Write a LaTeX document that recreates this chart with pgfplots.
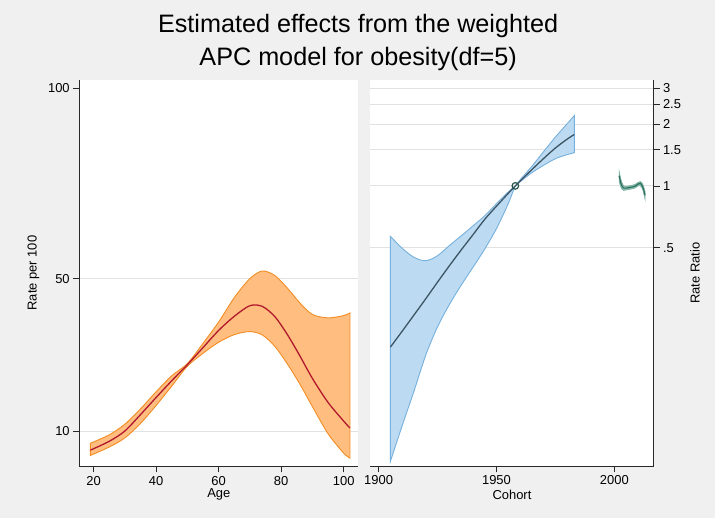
\documentclass[border=0pt]{standalone}
\usepackage{pgfplots}
\pgfplotsset{compat=1.18}
\usepackage{pgfplotstable}
\usepgfplotslibrary{fillbetween}
\usepackage{fontspec}
\setmainfont{Liberation Sans}

\definecolor{bgcol}{RGB}{240,240,240}
\definecolor{gridcol}{RGB}{226,226,226}
\definecolor{axcol}{RGB}{40,40,40}
\definecolor{orfill}{RGB}{255,190,128}
\definecolor{orline}{RGB}{242,140,35}
\definecolor{redline}{RGB}{176,24,45}
\definecolor{blfill}{RGB}{188,219,242}
\definecolor{blline}{RGB}{118,176,220}
\definecolor{slate}{RGB}{60,85,100}
\definecolor{tealfill}{RGB}{140,192,176}
\definecolor{tealline}{RGB}{46,110,94}

% age effect: rate per 100
\pgfplotstableread{
age est lo hi
19 5.0 3.6 6.8
25 7.3 5.8 9.0
30 10.0 8.2 11.8
35 14.3 12.0 15.8
40 18.8 16.7 20.3
45 23.2 21.8 24.5
50 27.4 27.0 27.7
55 31.9 30.4 33.0
60 36.4 33.3 38.6
65 40.1 35.3 45.0
70 42.9 36.1 50.0
74 42.7 35.2 52.0
78 40.0 32.2 50.8
82 35.3 27.6 47.5
86 29.7 22.3 43.6
90 23.8 16.4 40.6
95 17.5 9.3 39.7
100 12.6 4.2 40.3
102 10.8 2.9 41.0
}\agetab

% cohort effect: rate ratio
\pgfplotstableread{
coh est lo hi
1905 0.164 0.0455 0.568
1910 0.196 0.068 0.497
1915 0.235 0.100 0.449
1920 0.282 0.150 0.432
1925 0.340 0.206 0.457
1930 0.408 0.264 0.512
1935 0.487 0.328 0.571
1940 0.578 0.401 0.638
1945 0.687 0.492 0.715
1950 0.797 0.620 0.820
1955 0.920 0.820 0.935
1958 1.000 1.000 1.000
1960 1.055 1.046 1.070
1965 1.200 1.160 1.245
1970 1.360 1.260 1.470
1975 1.530 1.357 1.730
1980 1.690 1.420 2.010
1983 1.780 1.450 2.200
}\cohtab

% period effect: rate ratio
\pgfplotstableread{
per est lo hi
2002 1.12 1.05 1.18
2003 1.01 0.97 1.05
2004 0.975 0.95 1.00
2005 0.975 0.955 0.995
2006 0.98 0.96 1.00
2007 0.985 0.965 1.005
2008 0.99 0.97 1.01
2009 1.00 0.98 1.02
2010 1.02 1.00 1.04
2011 1.03 1.00 1.05
2012 0.99 0.96 1.02
2013 0.90 0.86 0.94
}\pertab

\pgfplotsset{
  apc/.style={
    scale only axis,
    height=388.3pt,
    anchor=south west,
    axis background/.style={fill=white},
    tick align=outside,
    major tick length=6pt,
    tick style={color=axcol, line width=0.7pt},
    axis line style={color=axcol, line width=0.8pt},
    grid style={color=gridcol, line width=0.8pt},
    ticklabel style={font=\fontsize{13}{15}\selectfont},
    label style={font=\fontsize{13}{15}\selectfont},
    /pgf/number format/assume math mode=true,
    /pgf/number format/1000 sep={},
    xlabel style={at={(axis description cs:0.5,-0.0731)}, anchor=center},
  }
}

\begin{document}
\pagecolor{bgcol}
\begin{tikzpicture}
\path (0pt,0pt) rectangle (715pt,520pt);
\node[anchor=base, font=\fontsize{25.3}{30}\selectfont] at (356.7pt,487pt) {Estimated effects from the weighted};
\node[anchor=base, font=\fontsize{25.3}{30}\selectfont] at (356.7pt,454pt) {APC model for obesity(df=5)};

\begin{axis}[apc,
    at={(76.7pt,51.7pt)},
    width=280.3pt,
    xmin=15.4, xmax=104.7,
    ymin=0.7, ymax=102.2,
    axis x line*=bottom,
    axis y line*=left,
    xtick={20,40,60,80,100},
    xticklabels={20,40,60,80,100},
    ytick={10,50,100},
    yticklabels={10,50,100},
    extra y ticks={10,50},
    extra y tick labels={},
    extra y tick style={grid=major, major tick length=0pt},
    xlabel={Age},
    ylabel={Rate per 100},
    ylabel style={at={(axis description cs:-0.164,0.5)}, anchor=center},
]
\addplot[draw=none, smooth, name path=ahi] table[x=age, y=hi] {\agetab};
\addplot[draw=none, smooth, name path=alo] table[x=age, y=lo] {\agetab};
\addplot[fill=orfill, draw=orline, line width=0.9pt] fill between[of=ahi and alo];
\addplot[redline, line width=1.3pt, smooth] table[x=age, y=est] {\agetab};
\end{axis}

\begin{axis}[apc,
    at={(369pt,51.7pt)},
    width=284.3pt,
    xmin=1896.5, xmax=2016.6,
    ymode=log,
    ymin=0.043, ymax=3.29,
    axis x line*=bottom,
    axis y line*=right,
    xtick={1900,1950,2000},
    xticklabels={1900,1950,2000},
    ytick={0.5,1,1.5,2,2.5,3},
    yticklabels={.5,1,1.5,2,2.5,3},
    yminorticks=false,
    ymajorgrids,
    xlabel={Cohort},
    ylabel={Rate Ratio},
    ylabel style={at={(axis description cs:1.1467,0.5)}, anchor=center},
]
\addplot[draw=none, smooth, name path=chi] table[x=coh, y=hi] {\cohtab};
\addplot[draw=none, smooth, name path=clo] table[x=coh, y=lo] {\cohtab};
\addplot[fill=blfill, draw=blline, line width=0.9pt] fill between[of=chi and clo];
\addplot[slate, line width=1.3pt, smooth] table[x=coh, y=est] {\cohtab};
\addplot[draw=none, smooth, name path=phi] table[x=per, y=hi] {\pertab};
\addplot[draw=none, smooth, name path=plo] table[x=per, y=lo] {\pertab};
\addplot[fill=tealfill, draw=tealfill!80!tealline, line width=0.6pt] fill between[of=phi and plo];
\addplot[tealline, line width=1.2pt, smooth] table[x=per, y=est] {\pertab};
\addplot[only marks, mark=o, mark size=3.3pt, mark options={draw=tealline!80!black, line width=1.2pt}] coordinates {(1958,1)};
\end{axis}
\end{tikzpicture}
\end{document}
